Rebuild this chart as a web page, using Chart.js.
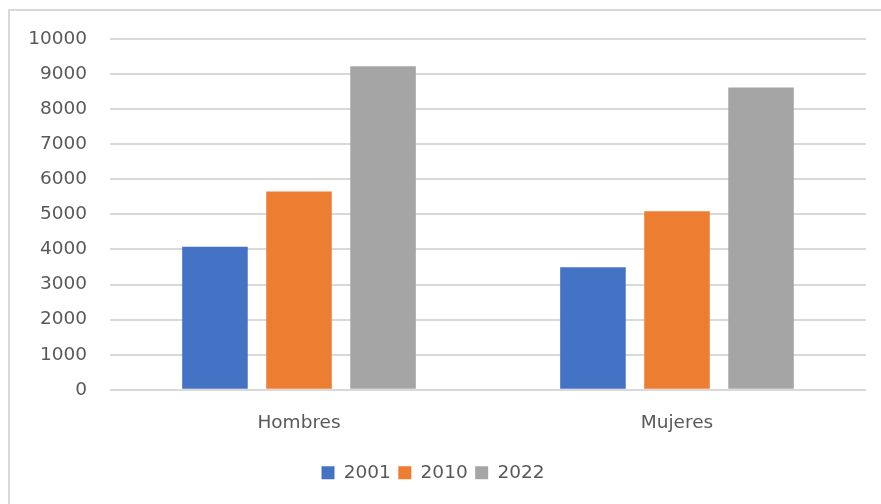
<!DOCTYPE html>
<html>
<head>
<meta charset="utf-8">
<script src="https://cdn.jsdelivr.net/npm/chart.js@4"></script>
<style>
  html, body { margin: 0; padding: 0; background: #fff; overflow: hidden; }
  body { width: 881px; height: 504px; position: relative; }
  #frame { position: absolute; left: 8px; top: 9px; width: 900px; height: 520px; border: 2px solid #d9d9d9; box-sizing: border-box; }
  #wrap { position: absolute; left: 0; top: 0; width: 881px; height: 504px; }
</style>
</head>
<body>
<div id="frame"></div>
<div id="wrap"><canvas id="mainChart"></canvas></div>
<script>
// datos
const categories = ['Hombres', 'Mujeres'];
const years = ['2001', '2010', '2022'];
const values2001 = [4080, 3490];
const values2010 = [5650, 5090];
const values2022 = [9220, 8620];
const yTicks = [0, 1000, 2000, 3000, 4000, 5000, 6000, 7000, 8000, 9000, 10000];

const colors = ['#4472C4', '#ED7D31', '#A5A5A5'];
const textColor = '#595959';
const font = { family: 'DejaVu Sans', size: 18.5 };

const ctx = document.getElementById('mainChart').getContext('2d');
new Chart(ctx, {
    type: 'bar',
    data: {
        labels: categories,
        datasets: [values2001, values2010, values2022].map((data, i) => ({
            label: years[i],
            data: data,
            backgroundColor: colors[i],
            borderWidth: 0,
            categoryPercentage: 0.667,
            barPercentage: 0.78
        }))
    },
    options: {
        responsive: true,
        maintainAspectRatio: false,
        animation: false,
        layout: { padding: { left: 0, right: 15, top: 39, bottom: 12 } },
        plugins: {
            legend: {
                position: 'bottom',
                labels: {
                    color: textColor,
                    font: font,
                    boxWidth: 13,
                    boxHeight: 13,
                    padding: 7.5
                }
            },
            tooltip: { enabled: false }
        },
        scales: {
            x: {
                grid: { display: false, drawTicks: false },
                border: { display: false },
                ticks: { color: textColor, font: font, padding: 22 }
            },
            y: {
                min: 0,
                max: 10000,
                afterBuildTicks: (scale) => { scale.ticks = yTicks.map(v => ({ value: v })); },
                afterFit: (scale) => { scale.width = 110; },
                grid: { color: '#d9d9d9', lineWidth: 2, drawTicks: false },
                border: { display: false },
                ticks: {
                    color: textColor,
                    font: font,
                    padding: 23,
                    callback: (value) => String(value)
                }
            }
        }
    }
});
</script>
</body>
</html>
